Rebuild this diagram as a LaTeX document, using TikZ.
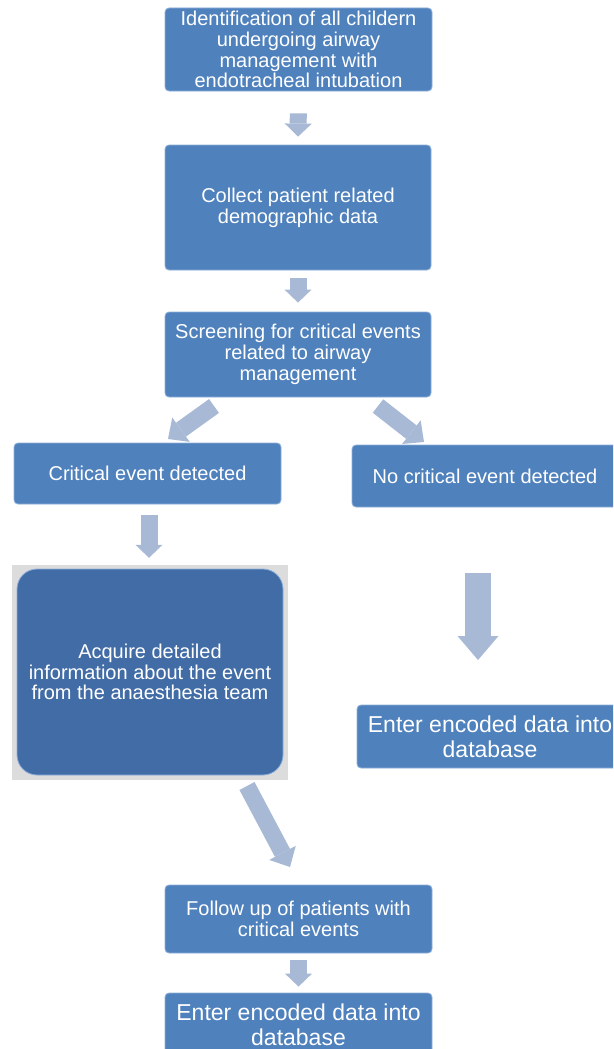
\documentclass[tikz,border=0pt]{standalone}
\usepackage{fontspec}
\setmainfont{Liberation Sans}
\usetikzlibrary{arrows.meta}
\definecolor{boxblue}{HTML}{4F81BD}
\definecolor{boxedge}{HTML}{8FB0DA}
\definecolor{darkblue}{HTML}{416CA6}
\definecolor{framegray}{HTML}{DCDCDC}
\definecolor{arrowblue}{HTML}{A8B9D6}
\begin{document}
\begin{tikzpicture}[x=1pt,y=-1pt,
  box/.style={draw=boxedge, line width=0.8pt, fill=boxblue, rounded corners=4pt,
    text=white, align=center, inner sep=0pt,
    font=\fontsize{20}{20.8}\selectfont},
  bigtext/.style={font=\fontsize{23}{25}\selectfont},
  arrowsmall/.style={draw=arrowblue, line width=17pt,
    -{Triangle[length=13pt,width=27pt,line width=0pt]}},
  arrowmid/.style={draw=arrowblue, line width=17pt,
    -{Triangle[length=16pt,width=30pt,line width=0pt]}},
  arrowbig/.style={draw=arrowblue, line width=26pt,
    -{Triangle[length=24pt,width=41pt,line width=0pt]}}]
\useasboundingbox (0,0) rectangle (613,1049);
\clip (0,0) rectangle (613,1049);
\fill[white] (0,0) rectangle (613,1049);

\node[box, minimum width=267pt, minimum height=83pt] (b1) at (298.5,49.5)
  {Identification of all childern\\undergoing airway\\management with\\endotracheal intubation};
\node[box, minimum width=266pt, minimum height=125pt] (b2) at (298,207.5)
  {Collect patient related\\demographic data};
\node[box, minimum width=266pt, minimum height=85pt] (b3) at (298,354.5)
  {Screening for critical events\\related to airway\\management};
\node[box, minimum width=267pt, minimum height=61pt] (ce) at (147.5,473.5)
  {Critical event detected};
\node[box, minimum width=266pt, minimum height=62pt] (nc) at (485,476)
  {No critical event detected};
\node[fill=framegray, inner sep=0pt, minimum width=276pt, minimum height=215pt] (acqf) at (150,672.5) {};
\node[box, fill=darkblue, rounded corners=20pt, minimum width=266pt, minimum height=206pt] (acq) at (150,672)
  {Acquire detailed\\information about the event\\from the anaesthesia team};
\node[box, bigtext, minimum width=266pt, minimum height=63pt] (er) at (490,736.5)
  {Enter encoded data into\\database};
\node[box, minimum width=267pt, minimum height=68pt] (fu) at (298.5,919)
  {Follow up of patients with\\critical events};
\node[box, bigtext, minimum width=267pt, minimum height=64pt] (eb) at (298.5,1025)
  {Enter encoded data into\\database};

\coordinate (l1) at (214,406);
\coordinate (l2) at (168,439);
\coordinate (r1) at (378,406);
\coordinate (r2) at (424,442);
\coordinate (n1) at (478,573);
\coordinate (n2) at (478,660);
\coordinate (d1) at (247,786);
\coordinate (d2) at (290,867);

\draw[arrowsmall, shorten <=22pt, shorten >=8pt] (b1.south) -- (b2.north);
\draw[arrowsmall, shorten <=8pt, shorten >=9pt] (b2.south) -- (b3.north);
\draw[arrowmid] (l1) -- (l2);
\draw[arrowmid] (r1) -- (r2);
\draw[arrowsmall, shorten <=11pt, shorten >=7pt] ([xshift=1.5pt]ce.south) -- ([xshift=-1pt]acqf.north);
\draw[arrowbig] (n1) -- (n2);
\draw[arrowmid] (d1) -- (d2);
\draw[arrowsmall, shorten <=7pt, shorten >=6pt] (fu.south) -- (eb.north);
\end{tikzpicture}
\end{document}
